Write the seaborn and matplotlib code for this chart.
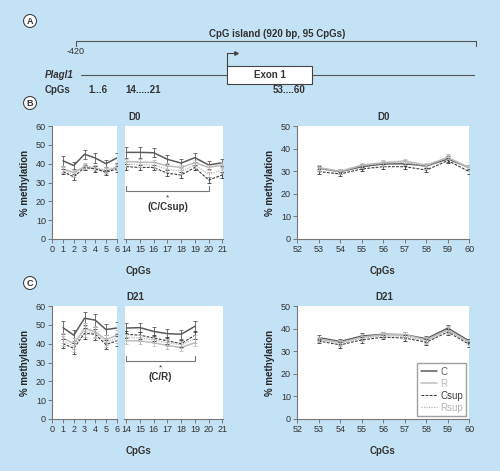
import matplotlib
matplotlib.use("Agg")
import matplotlib.pyplot as plt
from matplotlib.patches import Rectangle
import pandas as pd
import seaborn as sns

# ---- data ----
groups = ["C", "R", "Csup", "Rsup"]

cpg_left_d0 = [1, 2, 3, 4, 5, 6, 14, 15, 16, 17, 18, 19, 20, 21]
cpg_left_d21 = [1, 2, 3, 4, 5, 6, 14, 15, 16, 17, 18, 19]
cpg_right = [53, 54, 55, 56, 57, 58, 59, 60]

# D0, CpGs 1-6 and 14-21
d0_left_C = [41.5, 39, 45, 43, 40, 43, 46, 46, 45.8, 42.3, 40.3, 43.2, 39.3, 40.5]
d0_left_R = [37.2, 35.4, 38.4, 37.5, 36, 37.9, 41.2, 40.8, 40.7, 38.8, 38, 40.5, 38, 39.3]
d0_left_Csup = [35.8, 33, 37.9, 37.2, 35.4, 37.2, 38.4, 38, 38, 34.9, 34, 38, 31.3, 34]
d0_left_Rsup = [36.6, 34.3, 38.9, 37.9, 36.6, 38.4, 39.6, 39.6, 39.3, 37, 36, 39.3, 34.3, 36.6]
d0_left_err_C = [2.8, 2, 2.3, 2.5, 2, 2.5, 3, 2.8, 2.5, 2.5, 2, 2.5, 2, 2]
d0_left_err_other = [1.5, 1.5, 1.5, 1.5, 1.5, 1.5, 1.5, 1.5, 1.5, 1.5, 1.5, 1.5, 1.5, 1.5]

# D21, CpGs 1-6 and 14-19
d21_left_C = [48.5, 44.5, 53.5, 52.5, 47.5, 48.3, 48.3, 48.5, 46.5, 45.3, 45, 49.2]
d21_left_R = [43, 40, 48, 46.5, 42, 44.5, 41.5, 41.5, 40.5, 39, 38, 40.5]
d21_left_Csup = [40, 37.5, 45.5, 45, 39.5, 41.5, 45, 44.5, 43, 41.5, 40, 44.5]
d21_left_Rsup = [41.5, 38.5, 46.5, 45.8, 40.5, 43, 43.5, 43, 42, 40.5, 39.5, 42.5]
d21_left_err_C = [3.3, 3, 3.5, 3.5, 2.7, 3.3, 2.5, 2.5, 2.5, 2.5, 2.5, 2.8]
d21_left_err_other = [2.5, 2.8, 3, 3, 2.5, 2.8, 1.8, 1.8, 1.8, 1.8, 1.8, 2]

# D0, CpGs 53-60
d0_right_C = [31.3, 29.8, 32, 33.2, 33.3, 32.3, 35.4, 31.6]
d0_right_R = [31.6, 30, 32.7, 33.8, 34.5, 32.7, 36, 31.6]
d0_right_Csup = [29.8, 28.8, 31, 32, 32, 30.5, 34.7, 29.8]
d0_right_Rsup = [31, 29.8, 32.4, 33.5, 33.9, 32, 36.4, 31]
d0_right_err = [1, 1, 1, 1, 1, 1, 1.2, 1]

# D21, CpGs 53-60
d21_right_C = [36, 34.3, 36.7, 37.5, 37.3, 35.5, 40.2, 34.5]
d21_right_R = [35.5, 33.8, 36.2, 37.3, 37.3, 35, 39.5, 34]
d21_right_Csup = [34.5, 32.8, 35, 36.2, 35.8, 34, 38.5, 33]
d21_right_Rsup = [35, 33.3, 35.7, 36.8, 36.5, 34.5, 39, 33.6]
d21_right_err = [1, 1.2, 1.2, 1, 1.2, 1.3, 1.5, 1]

sig_d0 = (14, 20, 25.5, "(C/Csup)")
sig_d21 = (14, 19, 30.8, "(C/R)")

# ---- styles ----
BG = "#c4e2f5"
TXT = "#333333"
AX = "#777777"
styles = {
    "C": dict(color="#5a5a5a", lw=1.1, ls="-"),
    "R": dict(color="#bdbdbd", lw=1.1, ls="-"),
    "Csup": dict(color="#3a3a3a", lw=0.8, ls=(0, (2.5, 1.2))),
    "Rsup": dict(color="#b5b5b5", lw=0.9, ls=(0, (1, 1))),
}

sns.set_style("ticks")
plt.rcParams["font.family"] = ["Liberation Sans", "DejaVu Sans"]
plt.rcParams["text.color"] = TXT

W, H = 500, 471
fig = plt.figure(figsize=(5, 4.71), dpi=100)
fig.patch.set_facecolor(BG)

# overlay axis in pixel coordinates for panel A and labels
ov = fig.add_axes([0, 0, 1, 1])
ov.set_xlim(0, W)
ov.set_ylim(H, 0)
ov.axis("off")
ov.patch.set_alpha(0)


def px_axes(x0, x1, y0, y1):
    return fig.add_axes([x0 / W, 1 - y1 / H, (x1 - x0) / W, (y1 - y0) / H])


def circ_label(x, y, s):
    ov.text(x, y, s, ha="center", va="center", fontsize=6.5, fontweight="bold",
            bbox=dict(boxstyle="circle,pad=0.22", fc="white", ec="#444", lw=0.8))


def style_ax(ax, left=True):
    ax.set_facecolor("white")
    sns.despine(ax=ax, left=not left)
    for sp in ["left", "bottom"]:
        ax.spines[sp].set_color(AX)
        ax.spines[sp].set_linewidth(0.8)
    ax.tick_params(length=3, width=0.7, color=AX, labelsize=6.5,
                   labelcolor=TXT, pad=1.5)
    if not left:
        ax.tick_params(axis="y", left=False, labelleft=False)
    ax.set_xlabel("")
    ax.set_ylabel("")


def draw_series(ax, x, vals, errs):
    for g in groups:
        st = styles[g]
        df = pd.DataFrame({"cpg": x, "meth": vals[g]})
        sns.lineplot(data=df, x="cpg", y="meth", ax=ax, color=st["color"],
                     linewidth=st["lw"], linestyle=st["ls"], label=g, legend=False)
        ax.errorbar(x, vals[g], yerr=errs[g], fmt="none", ecolor=st["color"],
                    elinewidth=0.6, capsize=1.3, capthick=0.6)


def left_panel(y0, y1, cpg, vals, errs, sig, title):
    a1 = px_axes(52.3, 116.7, y0, y1)
    a2 = px_axes(124.5, 223, y0, y1)
    n1 = sum(1 for c in cpg if c <= 6)
    for ax, sl in ((a1, slice(0, n1)), (a2, slice(n1, None))):
        xs = cpg[sl]
        draw_series(ax, xs, {g: vals[g][sl] for g in groups},
                    {g: errs[g][sl] for g in groups})
        ax.set_ylim(0, 60)
    a1.set_xlim(0, 6)
    a1.set_xticks(range(0, 7))
    a2.set_xlim(13.87, 21.05)
    a2.set_xticks(range(14, 22))
    a1.set_yticks(range(0, 61, 10))
    style_ax(a1, True)
    style_ax(a2, False)
    a1.set_ylabel("% methylation", fontsize=7, fontweight="bold", labelpad=4)
    # significance bracket
    xa, xb, lvl, txt = sig
    a2.plot([xa, xa, xb, xb], [lvl + 2.5, lvl, lvl, lvl + 2.5], color=AX, lw=0.8)
    xm = (xa + xb) / 2
    a2.text(xm, lvl - 3.5, "*", ha="center", va="center", fontsize=6)
    a2.text(xm, lvl - 8.5, txt, ha="center", va="center", fontsize=7, fontweight="bold")
    ov.text(135, (y0 - 9), title, ha="center", va="center", fontsize=7, fontweight="bold")
    ov.text(138, y1 + 32, "CpGs", ha="center", va="center", fontsize=7, fontweight="bold")
    return a1, a2


def right_panel(y0, y1, vals, err, title):
    ax = px_axes(297.3, 469.3, y0, y1)
    draw_series(ax, cpg_right, vals, {g: err for g in groups})
    ax.set_xlim(52, 60)
    ax.set_ylim(0, 50)
    ax.set_xticks(range(52, 61))
    ax.set_yticks(range(0, 51, 10))
    style_ax(ax, True)
    ax.set_ylabel("% methylation", fontsize=7, fontweight="bold", labelpad=4)
    ov.text(384, (y0 - 9), title, ha="center", va="center", fontsize=7, fontweight="bold")
    ov.text(383, y1 + 32, "CpGs", ha="center", va="center", fontsize=7, fontweight="bold")
    return ax


# ---- panel A: gene schematic ----
circ_label(30, 21, "A")
ov.text(277, 34, "CpG island (920 bp, 95 CpGs)", ha="center", va="center",
        fontsize=7, fontweight="bold")
ov.plot([76, 76, 476, 476], [46, 41, 41, 46], color="#555", lw=0.8)
ov.text(76, 52, "-420", ha="center", va="center", fontsize=6.5)
ov.plot([81, 474], [75, 75], color="#555", lw=0.8, zorder=1)
ov.add_patch(Rectangle((227, 66), 85, 18, fc="white", ec="#444", lw=0.8, zorder=2))
ov.text(270, 75, "Exon 1", ha="center", va="center", fontsize=7, fontweight="bold", zorder=3)
ov.plot([227, 227, 235], [66, 53, 53], color="#444", lw=0.8)
ov.plot([236], [53], marker=">", ms=2.5, color="#444")
ov.text(45, 75, "Plagl1", ha="left", va="center", fontsize=7, fontweight="bold",
        fontstyle="italic")
ov.text(45, 90, "CpGs", ha="left", va="center", fontsize=7, fontweight="bold")
ov.text(98, 90, "1...6", ha="center", va="center", fontsize=7, fontweight="bold")
ov.text(143, 90, "14.....21", ha="center", va="center", fontsize=7, fontweight="bold")
ov.text(289, 90, "53....60", ha="center", va="center", fontsize=7, fontweight="bold")

circ_label(30, 103, "B")
circ_label(30, 283, "C")

# ---- panel B: D0 ----
left_panel(126, 239, cpg_left_d0,
           {"C": d0_left_C, "R": d0_left_R, "Csup": d0_left_Csup, "Rsup": d0_left_Rsup},
           {"C": d0_left_err_C, "R": d0_left_err_other, "Csup": d0_left_err_other,
            "Rsup": d0_left_err_other},
           sig_d0, "D0")
right_panel(126, 239,
            {"C": d0_right_C, "R": d0_right_R, "Csup": d0_right_Csup, "Rsup": d0_right_Rsup},
            d0_right_err, "D0")

# ---- panel C: D21 ----
left_panel(306, 419, cpg_left_d21,
           {"C": d21_left_C, "R": d21_left_R, "Csup": d21_left_Csup, "Rsup": d21_left_Rsup},
           {"C": d21_left_err_C, "R": d21_left_err_other, "Csup": d21_left_err_other,
            "Rsup": d21_left_err_other},
           sig_d21, "D21")
axr = right_panel(306, 419,
                  {"C": d21_right_C, "R": d21_right_R, "Csup": d21_right_Csup,
                   "Rsup": d21_right_Rsup},
                  d21_right_err, "D21")

handles = [ln for ln in axr.get_lines() if ln.get_label() in groups]
leg = axr.legend(handles=handles, labels=groups, loc="lower right", fontsize=7,
                 frameon=True, fancybox=False, edgecolor="#888", handlelength=1.7,
                 handletextpad=0.3, labelspacing=0.2, borderpad=0.35,
                 borderaxespad=0.3)
leg.get_frame().set_linewidth(1.0)
for t, g in zip(leg.get_texts(), groups):
    t.set_color(styles[g]["color"])

fig.savefig("out.png", dpi=100, facecolor=BG)
